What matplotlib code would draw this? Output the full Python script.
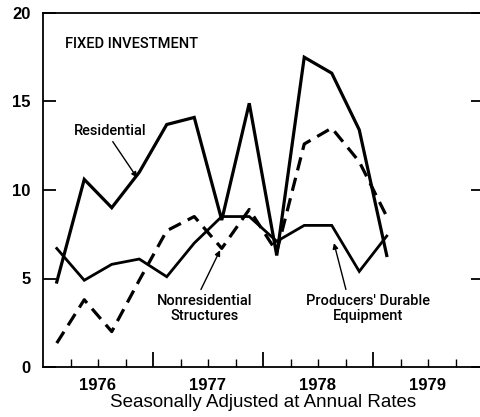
import numpy as np
import matplotlib
matplotlib.use('Agg')
import matplotlib.pyplot as plt

# quarterly points, 1976 Q1 .. 1979 Q1 (plotted at mid-quarter)
quarters = 1976.125 + 0.25 * np.arange(13)
residential = [4.8, 10.6, 9.0, 11.0, 13.7, 14.1, 8.3, 14.9, 6.3, 17.5, 16.6, 13.4, 6.3]
nonres_structures = [1.35, 3.8, 2.0, 4.9, 7.7, 8.5, 6.7, 8.9, 6.5, 12.6, 13.5, 11.6, 8.5]
durable_equipment = [6.7, 4.9, 5.8, 6.1, 5.1, 7.0, 8.5, 8.5, 7.1, 8.0, 8.0, 5.4, 7.4]
years = [1976, 1977, 1978, 1979]
yticks = [0, 5, 10, 15, 20]

lab = 'Roboto'
num = 'Liberation Sans'

fig = plt.figure(figsize=(4.8, 4.17), dpi=100)
ax = fig.add_axes([43 / 480, 50 / 417, 440 / 480, 354 / 417])

ax.plot(quarters, residential, color='black', lw=2.3, solid_joinstyle='miter')
ax.plot(quarters, nonres_structures, color='black', lw=2.3, dashes=(4.2, 2.4))
ax.plot(quarters, durable_equipment, color='black', lw=2.0, solid_joinstyle='miter')

ax.set_xlim(1976, 1980)
ax.set_ylim(0, 20)

ax.set_xticks([1977, 1978, 1979])
ax.set_xticks(np.arange(1976.25, 1980, 0.25), minor=True)
ax.tick_params(axis='x', which='major', direction='in', length=11, width=1.3, labelbottom=False)
ax.tick_params(axis='x', which='minor', direction='in', length=6, width=1.0)
# year labels centred in each year
for yr in years:
    ax.text(yr + 0.5, -0.6, str(yr), ha='center', va='top', fontsize=12,
            fontweight='bold', family=num)

ax.set_yticks(yticks)
ax.set_yticklabels([str(v) for v in yticks], fontsize=12, fontweight='bold', family=num)
ax.tick_params(axis='y', direction='in', length=9, width=1.3, right=True, pad=9)

for s in ax.spines.values():
    s.set_linewidth(1.3)

ax.set_xlabel('Seasonally Adjusted at Annual Rates', fontsize=13.5, family=num, labelpad=16)

ax.text(1976.2, 18.25, 'FIXED INVESTMENT', family=lab, fontsize=10.5, fontweight='medium',
        ha='left', va='center')

def arrow(rel):
    return dict(arrowstyle='-|>', color='black', lw=1.0, mutation_scale=8,
                shrinkA=1, shrinkB=0, relpos=rel)

ax.annotate('Residential', xy=(1976.855, 10.7), xytext=(1976.61, 13.35), family=lab,
            fontsize=10.5, fontweight='medium', ha='center', va='center',
            arrowprops=arrow((0.5, 0)))
ax.annotate('Nonresidential\nStructures', xy=(1977.61, 6.6), xytext=(1977.47, 4.15),
            family=lab, fontsize=10.5, fontweight='medium', ha='center', va='top',
            linespacing=1.15, arrowprops=arrow((0.44, 1)))
ax.annotate("Producers' Durable\nEquipment", xy=(1978.645, 7.0), xytext=(1978.955, 4.15),
            family=lab, fontsize=10.5, fontweight='medium', ha='center', va='top',
            linespacing=1.15, arrowprops=arrow((0.33, 1)))

fig.savefig('out.png', dpi=100)
